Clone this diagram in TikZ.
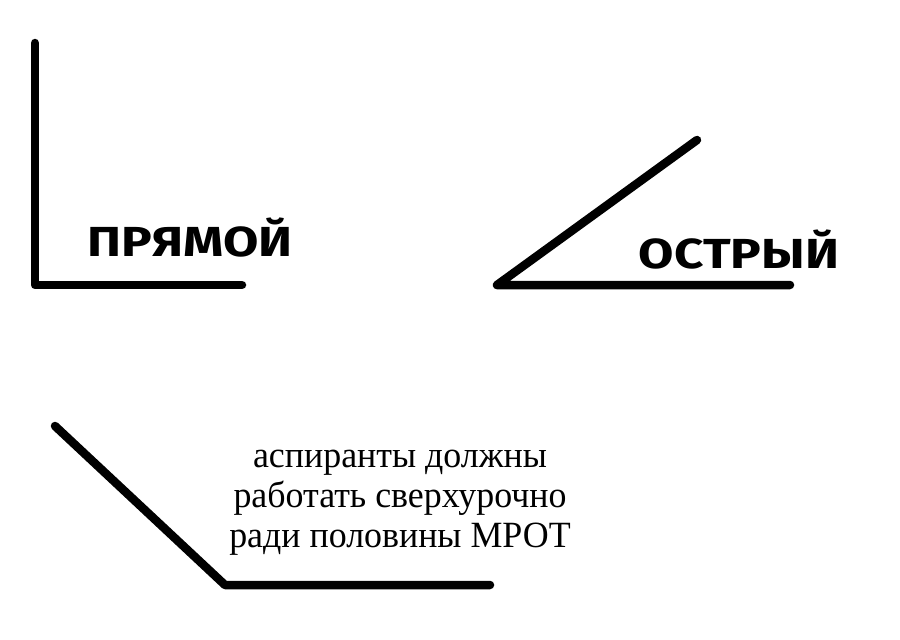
\documentclass[tikz,border=0pt]{standalone}
\usepackage{fontspec}
\setmainfont{Liberation Serif}
\newfontfamily\boldsans{Fira Sans}
\begin{document}
\begin{tikzpicture}[x=1pt,y=-1pt,
  ang/.style={line width=8.5pt,line cap=round,line join=round,black},
  lbl/.style={font=\boldsans\bfseries\fontsize{42}{42}\selectfont,inner sep=0pt,xscale=1.22},
  captxt/.style={font=\fontsize{37}{40}\selectfont,align=center,inner sep=0pt,xscale=0.97}]
\useasboundingbox (0,0) rectangle (900,640);
\coordinate (a1) at (35,43); \coordinate (a2) at (35,285); \coordinate (a3) at (242,285);
\draw[ang] (a1) -- (a2) -- (a3);
\coordinate (b1) at (697,140); \coordinate (b2) at (497,285); \coordinate (b3) at (790,285);
\draw[ang] (b1) -- (b2) -- (b3);
\coordinate (c1) at (55,426); \coordinate (c2) at (225,585); \coordinate (c3) at (490,585);
\draw[ang] (c1) -- (c2) -- (c3);
\node[lbl] (t1) at (190,238) {ПРЯМОЙ};
\node[lbl] (t2) at (739,250) {ОСТРЫЙ};
\node[captxt] (t3) at (400,503) {аспиранты должны\\работать сверхурочно\\ради половины МРОТ};
\end{tikzpicture}
\end{document}
